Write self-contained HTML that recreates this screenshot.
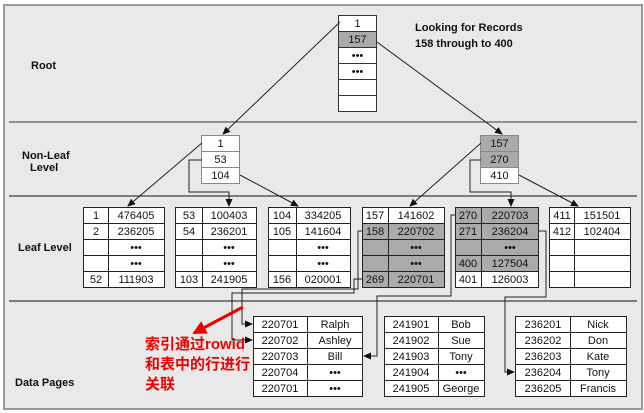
<!DOCTYPE html>
<html><head><meta charset="utf-8"><style>
body{margin:0;background:#fff}
svg{display:block}
text{font-family:"Liberation Sans",sans-serif;font-size:11px;fill:#111}
.b{font-weight:bold;font-size:11px}
.c{font-family:"Liberation Sans","Noto Sans CJK SC",sans-serif;font-size:15px;font-weight:bold;fill:#e00}
</style></head><body>
<svg width="644" height="413" viewBox="0 0 644 413" xmlns="http://www.w3.org/2000/svg">
<defs><marker id="a" markerWidth="8" markerHeight="8" refX="7" refY="4" orient="auto" markerUnits="userSpaceOnUse"><path d="M0,0.5 L8,4 L0,7.5 z" fill="#111"/></marker>
<marker id="r" markerWidth="14" markerHeight="14" refX="12" refY="7" orient="auto" markerUnits="userSpaceOnUse"><path d="M0,0 L14,7 L0,14 z" fill="#e00"/></marker></defs>
<rect x="4" y="5" width="638" height="404" fill="#e9e9e9" stroke="#999" stroke-width="2"/>
<g stroke="#333" stroke-width="1">
<line x1="9" y1="122" x2="637" y2="122"/><line x1="9" y1="196" x2="637" y2="196" stroke="#111"/><line x1="9" y1="301" x2="637" y2="301" stroke="#111"/>
</g>
<text class="b" x="31" y="69">Root</text>
<text class="b" x="22" y="159">Non-Leaf</text><text class="b" x="30" y="171">Level</text>
<text class="b" x="18" y="251">Leaf Level</text>
<text class="b" x="15" y="386">Data Pages</text>
<text class="b" x="415" y="31">Looking for Records</text>
<text class="b" x="415" y="47">158 through to 400</text>
<g id="nodes" stroke="#333" stroke-width="1">
<rect x="338.5" y="15.5" width="38" height="96" fill="#fff"/>
<rect x="338.5" y="31.5" width="38" height="16" fill="#aaa"/>
<path d="M338.5 47.5h38M338.5 63.5h38M338.5 79.5h38M338.5 95.5h38" fill="none"/>
<rect x="201.5" y="135.5" width="38" height="48" fill="#fff" stroke="#888"/>
<path d="M201.5 151.5h38M201.5 167.5h38" stroke="#888"/>
<rect x="480.5" y="135.5" width="38" height="48" fill="#fff" stroke="#888"/>
<rect x="480.5" y="135.5" width="38" height="32" fill="#aaa" stroke="#888"/>
<path d="M480.5 151.5h38" stroke="#888"/>
</g>
<g stroke="#222" stroke-width="1">
<rect x="83.5" y="207.5" width="81" height="80" fill="#fff"/>
<rect x="175.5" y="207.5" width="81" height="80" fill="#fff"/>
<rect x="268.5" y="207.5" width="82" height="80" fill="#fff"/>
<rect x="362.5" y="207.5" width="82" height="80" fill="#fff"/>
<rect x="362.5" y="223.5" width="82" height="64" fill="#aaa"/>
<rect x="455.5" y="207.5" width="83" height="80" fill="#fff"/>
<rect x="455.5" y="207.5" width="83" height="64" fill="#aaa"/>
<rect x="549.5" y="207.5" width="81" height="80" fill="#fff"/>
<path d="M83.5 223.5h81M83.5 239.5h81M83.5 255.5h81M83.5 271.5h81M108.5 207.5v80
M175.5 223.5h81M175.5 239.5h81M175.5 255.5h81M175.5 271.5h81M202.5 207.5v80
M268.5 223.5h82M268.5 239.5h82M268.5 255.5h82M268.5 271.5h82M296.5 207.5v80
M362.5 223.5h82M362.5 239.5h82M362.5 255.5h82M362.5 271.5h82M388.5 207.5v80
M455.5 223.5h83M455.5 239.5h83M455.5 255.5h83M455.5 271.5h83M481.5 207.5v80
M549.5 223.5h81M549.5 239.5h81M549.5 255.5h81M549.5 271.5h81M574.5 207.5v80" fill="none"/>
<rect x="253.5" y="316.5" width="109" height="80" fill="#fff"/>
<rect x="384.5" y="316.5" width="100" height="80" fill="#fff"/>
<rect x="515.5" y="316.5" width="111" height="80" fill="#fff"/>
<path d="M253.5 332.5h109M253.5 348.5h109M253.5 364.5h109M253.5 380.5h109M307.5 316.5v80
M384.5 332.5h100M384.5 348.5h100M384.5 364.5h100M384.5 380.5h100M438.5 316.5v80
M515.5 332.5h111M515.5 348.5h111M515.5 364.5h111M515.5 380.5h111M570.5 316.5v80" fill="none"/>
</g>
<g stroke="#222" stroke-width="1" fill="none">
<line x1="340" y1="22" x2="223" y2="134" marker-end="url(#a)"/>
<line x1="377" y1="42" x2="502" y2="134" marker-end="url(#a)"/>
<line x1="202" y1="143" x2="128" y2="206" marker-end="url(#a)"/>
<path d="M202 160H189V192H229V206" marker-end="url(#a)"/>
<line x1="240" y1="175" x2="298" y2="206" marker-end="url(#a)"/>
<line x1="481" y1="143" x2="410" y2="206" marker-end="url(#a)"/>
<path d="M481 160H470V192H511V206" marker-end="url(#a)"/>
<line x1="519" y1="175" x2="578" y2="206" marker-end="url(#a)"/>
<path d="M362.5 279H354V293H232V340H252" marker-end="url(#a)"/>
<path d="M362.5 231H358V289H242V324H252" marker-end="url(#a)"/>
<path d="M455.5 215H451V296H377V356H364" marker-end="url(#a)"/>
<path d="M538.5 231H546V297H505V372H514" marker-end="url(#a)"/>
</g>
<line x1="243" y1="307" x2="194" y2="333" stroke="#e00" stroke-width="3" marker-end="url(#r)"/>
<text class="c" x="145" y="349">索引通过rowid</text>
<text class="c" x="145" y="369">和表中的行进行</text>
<text class="c" x="145" y="389">关联</text>
<g text-anchor="middle">
<text x="357.5" y="27">1</text><text x="357.5" y="43">157</text><text x="357.5" y="59">•••</text><text x="357.5" y="75">•••</text>
<text x="220.5" y="147">1</text><text x="220.5" y="163">53</text><text x="220.5" y="179">104</text>
<text x="499.5" y="147">157</text><text x="499.5" y="163">270</text><text x="499.5" y="179">410</text>
<text x="96" y="219">1</text><text x="96" y="235">2</text><text x="96" y="283">52</text>
<text x="136" y="219">476405</text><text x="136" y="235">236205</text><text x="136" y="251">•••</text><text x="136" y="267">•••</text><text x="136" y="283">111903</text>
<text x="189" y="219">53</text><text x="189" y="235">54</text><text x="189" y="283">103</text>
<text x="229" y="219">100403</text><text x="229" y="235">236201</text><text x="229" y="251">•••</text><text x="229" y="267">•••</text><text x="229" y="283">241905</text>
<text x="282" y="219">104</text><text x="282" y="235">105</text><text x="282" y="283">156</text>
<text x="323" y="219">334205</text><text x="323" y="235">141604</text><text x="323" y="251">•••</text><text x="323" y="267">•••</text><text x="323" y="283">020001</text>
<text x="375" y="219">157</text><text x="375" y="235">158</text><text x="375" y="283">269</text>
<text x="416" y="219">141602</text><text x="416" y="235">220702</text><text x="416" y="251">•••</text><text x="416" y="267">•••</text><text x="416" y="283">220701</text>
<text x="468" y="219">270</text><text x="468" y="235">271</text><text x="468" y="267">400</text><text x="468" y="283">401</text>
<text x="510" y="219">220703</text><text x="510" y="235">236204</text><text x="510" y="251">•••</text><text x="510" y="267">127504</text><text x="510" y="283">126003</text>
<text x="562" y="219">411</text><text x="562" y="235">412</text>
<text x="602" y="219">151501</text><text x="602" y="235">102404</text>
<text x="280" y="328">220701</text><text x="280" y="344">220702</text><text x="280" y="360">220703</text><text x="280" y="376">220704</text><text x="280" y="392">220701</text>
<text x="335" y="328">Ralph</text><text x="335" y="344">Ashley</text><text x="335" y="360">Bill</text><text x="335" y="376">•••</text><text x="335" y="392">•••</text>
<text x="411" y="328">241901</text><text x="411" y="344">241902</text><text x="411" y="360">241903</text><text x="411" y="376">241904</text><text x="411" y="392">241905</text>
<text x="461" y="328">Bob</text><text x="461" y="344">Sue</text><text x="461" y="360">Tony</text><text x="461" y="376">•••</text><text x="461" y="392">George</text>
<text x="543" y="328">236201</text><text x="543" y="344">236202</text><text x="543" y="360">236203</text><text x="543" y="376">236204</text><text x="543" y="392">236205</text>
<text x="598" y="328">Nick</text><text x="598" y="344">Don</text><text x="598" y="360">Kate</text><text x="598" y="376">Tony</text><text x="598" y="392">Francis</text>
</g>
</svg>
</body></html>
